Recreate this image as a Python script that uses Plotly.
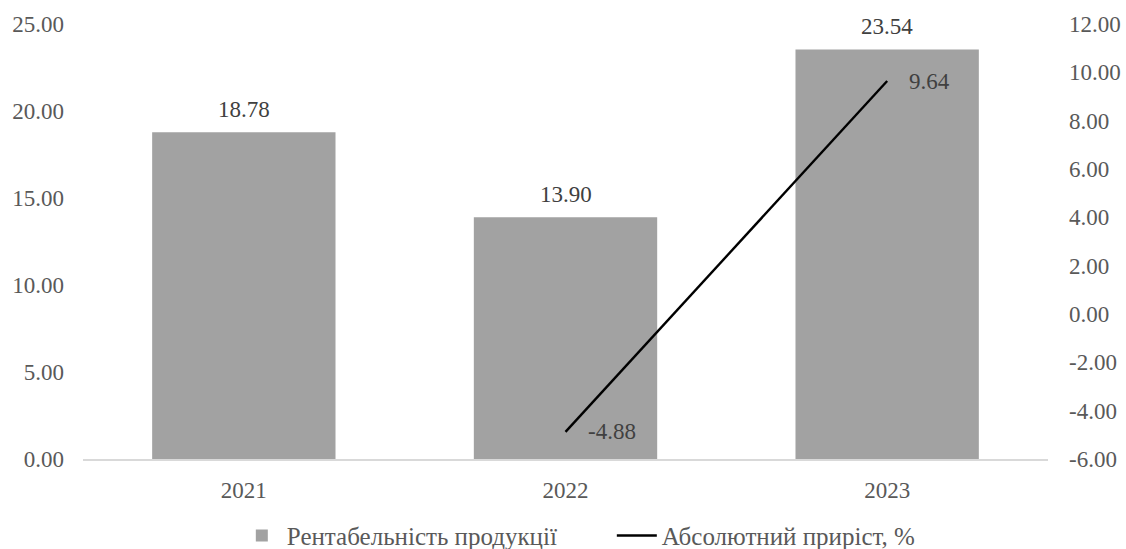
import plotly.graph_objects as go

# Data
years = ["2021", "2022", "2023"]
profitability = [18.78, 13.90, 23.54]          # Рентабельність продукції
growth_years = ["2022", "2023"]
abs_growth = [-4.88, 9.64]                     # Абсолютний приріст, %

left_ticks = [0, 5, 10, 15, 20, 25]
right_ticks = [-6, -4, -2, 0, 2, 4, 6, 8, 10, 12]

FONT = "Liberation Serif"
TICK_COLOR = "#595959"
LABEL_COLOR = "#404040"

fig = go.Figure()

fig.add_trace(go.Bar(
    x=years,
    y=profitability,
    name="Рентабельність продукції",
    marker=dict(color="#a2a2a2", line=dict(width=0)),
    width=0.57,
    yaxis="y",
))

fig.add_trace(go.Scatter(
    x=growth_years,
    y=abs_growth,
    name="Абсолютний приріст, %",
    mode="lines",
    line=dict(color="#000000", width=2.4),
    yaxis="y2",
))

# Value labels above bars (category axes take serial positions)
for x, v in zip(years, profitability):
    fig.add_annotation(
        x=years.index(x), y=v, xref="x", yref="y",
        text=f"{v:.2f}", showarrow=False,
        yanchor="bottom", yshift=8,
        font=dict(family=FONT, size=23, color=LABEL_COLOR),
    )

# Value labels beside line points
for x, v in zip(growth_years, abs_growth):
    fig.add_annotation(
        x=years.index(x), y=v, xref="x", yref="y2",
        text=f"{v:.2f}", showarrow=False,
        xanchor="left", xshift=20, yanchor="middle",
        font=dict(family=FONT, size=23, color=LABEL_COLOR),
    )

fig.update_layout(
    width=1126,
    height=549,
    margin=dict(l=83, r=78, t=24, b=90, autoexpand=False),
    paper_bgcolor="white",
    plot_bgcolor="white",
    font=dict(family=FONT, size=23, color=TICK_COLOR),
    showlegend=True,
    legend=dict(
        orientation="h",
        x=0.548, xanchor="center",
        yref="container",
        y=0.024, yanchor="middle",
        font=dict(family=FONT, size=25, color=TICK_COLOR),
        entrywidth=320,
        itemwidth=40,
    ),
    xaxis=dict(
        type="category",
        range=[-0.5, 2.5],
        showgrid=False,
        zeroline=False,
        showline=True,
        linecolor="#d9d9d9",
        linewidth=1.5,
        ticks="",
        ticklabelstandoff=10,
        tickfont=dict(family=FONT, size=23, color=TICK_COLOR),
    ),
    yaxis=dict(
        range=[0, 25],
        tickvals=left_ticks,
        ticktext=[f"{v:.2f}" for v in left_ticks],
        showgrid=False,
        zeroline=False,
        showline=False,
        ticks="",
        ticklabelstandoff=18,
        tickfont=dict(family=FONT, size=23, color=TICK_COLOR),
    ),
    yaxis2=dict(
        overlaying="y",
        side="right",
        range=[-6, 12],
        tickvals=right_ticks,
        ticktext=[f"{v:.2f}" for v in right_ticks],
        showgrid=False,
        zeroline=False,
        showline=False,
        ticks="",
        ticklabelstandoff=20,
        tickfont=dict(family=FONT, size=23, color=TICK_COLOR),
    ),
)

fig.write_html("out.html")
